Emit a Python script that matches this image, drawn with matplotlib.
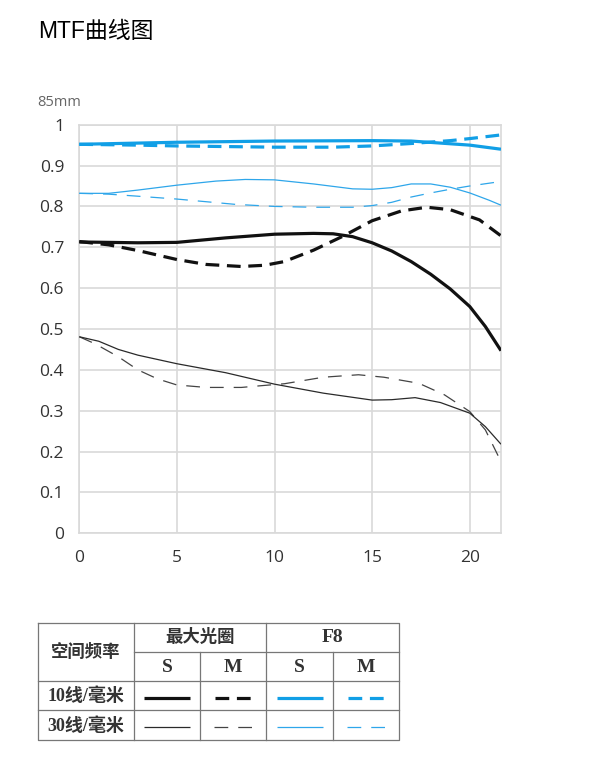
import numpy as np
from matplotlib import pyplot as plt

plt.rcParams['font.family'] = ['Open Sans', 'Noto Sans CJK SC', 'DejaVu Sans']

# MTF readings, 85mm lens (x: distance from centre, mm)
x_max_s10 = [0, 3, 5, 7.5, 10, 12, 13, 14, 15, 16, 17, 18, 19, 20, 20.8, 21.6]
y_max_s10 = [0.713, 0.711, 0.712, 0.723, 0.732, 0.734, 0.733, 0.726, 0.711, 0.691,
             0.665, 0.634, 0.598, 0.555, 0.506, 0.447]
x_max_m10 = [0, 1.5, 3, 5, 6.5, 8.3, 9.5, 10.5, 12, 13.5, 15, 16.5, 17.8, 19, 20.5, 21.6]
y_max_m10 = [0.714, 0.706, 0.692, 0.670, 0.658, 0.653, 0.656, 0.665, 0.693, 0.727,
             0.765, 0.789, 0.798, 0.792, 0.767, 0.728]
x_max_s30 = [0, 1, 2, 3, 5, 7.5, 10, 12.5, 15, 16, 17.2, 18.5, 20, 20.8, 21.6]
y_max_s30 = [0.481, 0.470, 0.450, 0.436, 0.415, 0.393, 0.365, 0.343, 0.326, 0.327,
             0.332, 0.320, 0.294, 0.261, 0.218]
x_max_m30 = [0, 0.8, 2, 3, 4, 5, 6.5, 8.3, 9.5, 10.5, 12.5, 14.3, 15.6, 17.4, 18.7,
             20, 20.8, 21.45]
y_max_m30 = [0.481, 0.464, 0.432, 0.400, 0.378, 0.363, 0.357, 0.357, 0.362, 0.366,
             0.382, 0.388, 0.382, 0.367, 0.339, 0.298, 0.253, 0.190]
x_f8_s10 = [0, 5, 10, 15, 17, 18.5, 20, 21.6]
y_f8_s10 = [0.952, 0.957, 0.960, 0.961, 0.960, 0.955, 0.950, 0.940]
x_f8_m10 = [0, 3, 5, 10, 13, 15, 17, 19, 20, 21.6]
y_f8_m10 = [0.952, 0.950, 0.948, 0.945, 0.945, 0.948, 0.954, 0.961, 0.966, 0.975]
x_f8_s30 = [0, 1.5, 3, 5, 7, 8.5, 10, 12, 14, 15, 16, 17, 18, 19, 20, 21, 21.6]
y_f8_s30 = [0.832, 0.832, 0.840, 0.852, 0.862, 0.866, 0.865, 0.855, 0.843, 0.842,
            0.846, 0.855, 0.855, 0.847, 0.833, 0.815, 0.803]
x_f8_m30 = [0, 1.5, 3, 5, 8, 10, 12, 14, 15, 16, 17, 18, 19, 20, 21.6]
y_f8_m30 = [0.832, 0.830, 0.825, 0.818, 0.805, 0.800, 0.798, 0.798, 0.802, 0.810,
            0.823, 0.833, 0.842, 0.850, 0.861]

title = 'MTF曲线图'
lens = '85mm'
row_labels = ['10线/毫米', '30线/毫米']
col_groups = ['最大光圈', 'F8']
sm_labels = ['S', 'M', 'S', 'M']

BLACK = '#111111'
BLUE = '#119fe6'
thick_dash = (4.3, 2.4)
thin_dash = (11.0, 8.0)

# (x, y, colour, width, dashes)
styles = {
    'max_s10': (x_max_s10, y_max_s10, BLACK, 2.3, None),
    'max_m10': (x_max_m10, y_max_m10, BLACK, 2.3, thick_dash),
    'f8_s10': (x_f8_s10, y_f8_s10, BLUE, 2.3, None),
    'f8_m10': (x_f8_m10, y_f8_m10, BLUE, 2.3, thick_dash),
    'max_s30': (x_max_s30, y_max_s30, '#2a2a2a', 0.9, None),
    'max_m30': (x_max_m30, y_max_m30, '#444444', 0.9, thin_dash),
    'f8_s30': (x_f8_s30, y_f8_s30, '#2ea6ea', 0.9, None),
    'f8_m30': (x_f8_m30, y_f8_m30, '#2ea6ea', 0.9, thin_dash),
}

W, H = 599, 761
fig = plt.figure(figsize=(W / 100, H / 100), dpi=100)

# full-figure axes in pixel units for title and table
bg = fig.add_axes([0, 0, 1, 1])
bg.set_xlim(0, W)
bg.set_ylim(H, 0)
bg.axis('off')

bg.text(38, 31, title, fontsize=16.5, color='black', va='center', ha='left',
        family=['Liberation Sans', 'Noto Sans CJK SC'])
bg.text(37, 103, lens, fontsize=10.5, color='#666666', va='center', ha='left')

ax = fig.add_axes([79.3 / W, 1 - 533.3 / H, (501 - 79.3) / W, (533.3 - 124.7) / H])
for key in ['f8_m30', 'f8_s30', 'f8_m10', 'f8_s10', 'max_m30', 'max_s30', 'max_m10', 'max_s10']:
    xs, ys, c, lw, d = styles[key]
    line, = ax.plot(xs, ys, color=c, lw=lw, solid_capstyle='butt', zorder=3)
    if d is not None:
        line.set_dashes(d)
ax.set_xlim(0, 21.6)
ax.set_ylim(0, 1)
ax.set_xticks([0, 5, 10, 15, 20])
ax.set_yticks(np.arange(0, 1.01, 0.1))
ax.set_yticklabels(['0', '0.1', '0.2', '0.3', '0.4', '0.5', '0.6', '0.7', '0.8', '0.9', '1'])
ax.grid(True, color='#d9d9d9', lw=1.2)
for s in ax.spines.values():
    s.set_color('#d9d9d9')
    s.set_linewidth(1.2)
ax.tick_params(length=0, labelsize=12.5, labelcolor='#333333')
ax.tick_params(axis='y', pad=11)
ax.tick_params(axis='x', pad=12)

# legend table
tc = '#777777'
tlw = 0.9
left, right = 38, 399
cols = [38, 134, 200, 266, 333, 399]
rows = [623, 652, 681, 710, 740]
bg.plot([left, right, right, left, left], [rows[0], rows[0], rows[-1], rows[-1], rows[0]],
        color=tc, lw=tlw)
bg.plot([cols[1], right], [rows[1], rows[1]], color=tc, lw=tlw)
for r in rows[2:4]:
    bg.plot([left, right], [r, r], color=tc, lw=tlw)
for cx in [cols[1], cols[3]]:
    bg.plot([cx, cx], [rows[0], rows[-1]], color=tc, lw=tlw)
for cx in [cols[2], cols[4]]:
    bg.plot([cx, cx], [rows[1], rows[-1]], color=tc, lw=tlw)

cjk_serif = ['Liberation Serif', 'Noto Sans CJK SC']
tkw = dict(ha='center', va='center', color='#333333', fontweight='bold', fontsize=12.5)
bg.text((cols[0] + cols[1]) / 2, (rows[0] + rows[2]) / 2, '空间频率', family=cjk_serif, **tkw)
bg.text((cols[1] + cols[3]) / 2, (rows[0] + rows[1]) / 2, col_groups[0], family=cjk_serif, **tkw)
bg.text((cols[3] + cols[5]) / 2, (rows[0] + rows[1]) / 2, col_groups[1], family=cjk_serif,
        ha='center', va='center', color='#333333', fontweight='bold', fontsize=14)
for i, lab in enumerate(sm_labels):
    bg.text((cols[i + 1] + cols[i + 2]) / 2, (rows[1] + rows[2]) / 2 + 1, lab, family=cjk_serif,
            ha='center', va='center', color='#333333', fontweight='bold', fontsize=14)
for j, lab in enumerate(row_labels):
    bg.text((cols[0] + cols[1]) / 2, (rows[j + 2] + rows[j + 3]) / 2 + 1, lab, family=cjk_serif,
            ha='center', va='center', color='#333333', fontweight='bold', fontsize=13)

legend_keys = [['max_s10', 'max_m10', 'f8_s10', 'f8_m10'],
               ['max_s30', 'max_m30', 'f8_s30', 'f8_m30']]
for j, keys in enumerate(legend_keys):
    ly = (rows[j + 2] + rows[j + 3]) / 2 + 2
    for i, key in enumerate(keys):
        _, _, c, lw, d = styles[key]
        cx = (cols[i + 1] + cols[i + 2]) / 2
        if d is None:
            seg, = bg.plot([cx - 23, cx + 23], [ly, ly], color=c, lw=lw, solid_capstyle='butt')
        else:
            half = (2 * d[0] + d[1]) * lw * 100 / 72 / 2
            seg, = bg.plot([cx - half, cx + half], [ly, ly], color=c, lw=lw, dash_capstyle='butt')
            seg.set_dashes(d)

fig.savefig('out.png', dpi=100)
